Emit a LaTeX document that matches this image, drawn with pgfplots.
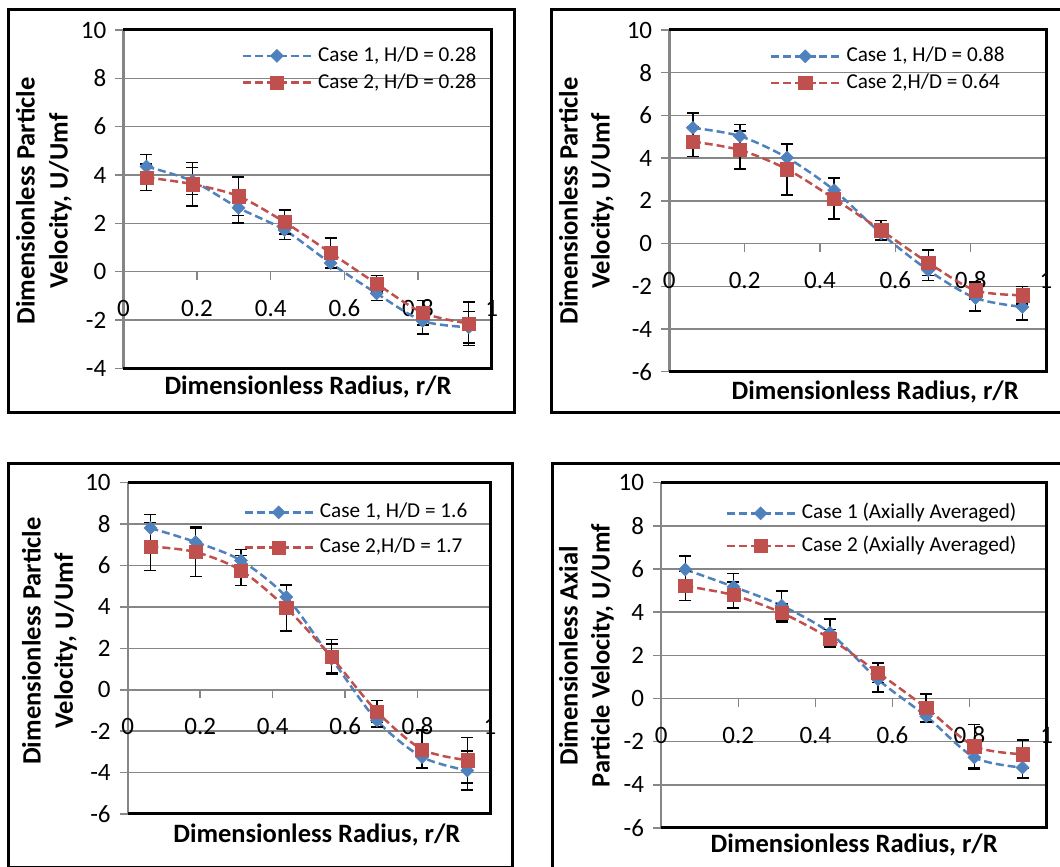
\documentclass[border=0pt]{standalone}
\usepackage{fontspec}
\setmainfont{Carlito}
\usepackage{pgfplots}
\usepackage{pgfplotstable}
\pgfplotsset{compat=1.18}

\definecolor{c1}{RGB}{79,129,189}
\definecolor{c2}{RGB}{192,80,77}
\definecolor{gridgray}{RGB}{134,134,134}

% r/R, case 1 (b, eb), case 2 (r, er)
\pgfplotstableread{
x      b      eb     r      er
0.0625 4.35   0.50   3.90   0.55
0.1875 3.75   0.55   3.62   0.90
0.3125 2.64   0.62   3.12   0.80
0.4375 1.72   0.40   2.05   0.50
0.5625 0.35   0.23   0.78   0.62
0.6875 -0.90  0.30   -0.50  0.35
0.8125 -2.04  0.55   -1.70  0.50
0.9375 -2.30  0.66   -2.15  0.90
}\dataA
\pgfplotstableread{
x      b      eb     r      er
0.0625 5.42   0.70   4.77   0.70
0.1875 5.03   0.55   4.38   0.90
0.3125 4.02   0.62   3.48   1.20
0.4375 2.50   0.60   2.10   0.95
0.5625 0.47   0.30   0.62   0.45
0.6875 -1.25  0.47   -0.90  0.60
0.8125 -2.55  0.60   -2.19  0.40
0.9375 -2.97  0.60   -2.42  0.40
}\dataB
\pgfplotstableread{
x      b      eb     r      er
0.0625 7.81   0.66   6.92   1.15
0.1875 7.13   0.76   6.65   1.17
0.3125 6.24   0.54   5.76   0.72
0.4375 4.48   0.61   3.95   1.11
0.5625 1.50   0.70   1.58   0.85
0.6875 -1.48  0.32   -1.05  0.53
0.8125 -3.25  0.52   -2.88  0.93
0.9375 -3.90  0.95   -3.40  1.10
}\dataC
\pgfplotstableread{
x      b      eb     r      er
0.0625 5.98   0.62   5.21   0.68
0.1875 5.18   0.62   4.79   0.60
0.3125 4.30   0.68   3.97   0.42
0.4375 3.04   0.64   2.78   0.42
0.5625 0.88   0.57   1.20   0.45
0.6875 -0.82  0.26   -0.43  0.63
0.8125 -2.73  0.55   -2.21  1.00
0.9375 -3.20  0.48   -2.58  0.65
}\dataD

\pgfplotsset{
  panel/.style={
    scale only axis, anchor=south west,
    xmin=0, xmax=1,
    xtick={0,0.2,0.4,0.6,0.8,1},
    xticklabels={0,0.2,0.4,0.6,0.8,1},
    axis x line*=middle, axis y line*=left,
    hide obscured x ticks=false, hide obscured y ticks=false,
    axis line style={-},
    x axis line style={gridgray, line width=1.5pt},
    y axis line style={gridgray, line width=2.5pt},
    tick align=outside, major tick length=8pt,
    tick style={gridgray, line width=1.5pt},
    ymajorgrids, grid style={gridgray, line width=1.5pt},
    tick label style={font=\fontsize{25}{30}\selectfont},
    yticklabel style={inner sep=0pt, anchor=east, xshift=-9pt},
    xticklabel style={inner sep=0pt, anchor=center, text height=16pt, text depth=0pt, yshift=-29pt},
    legend cell align=left,
    legend image code/.code={
      \draw[mark repeat=2, mark phase=2, #1]
        plot coordinates {(0pt,0pt) (34pt,0pt) (68pt,0pt)};
    },
    legend style={draw=none, fill=none, inner sep=0pt, outer sep=0pt,
      anchor=west, font=\fontsize{21.2}{24}\selectfont,
      nodes={inner sep=0pt, text height=15pt, text depth=4pt},
      /tikz/every odd column/.append style={column sep=6pt}},
  },
  s1/.style={c1, smooth, dash pattern=on 8pt off 4pt, line width=2.5pt,
    mark=square*, mark size=4.6pt,
    mark options={solid, rotate=45, fill=c1, draw=c1, line width=0.5pt},
    error bars/y dir=both, error bars/y explicit,
    error bars/error bar style={black, solid, line width=1.5pt},
    error bars/error mark options={black, solid, rotate=90, mark size=6pt, line width=1.5pt}},
  s2/.style={c2, smooth, dash pattern=on 8pt off 4pt, line width=2.5pt,
    mark=square*, mark size=6.6pt,
    mark options={solid, fill=c2, draw=c2, line width=0.5pt},
    error bars/y dir=both, error bars/y explicit,
    error bars/error bar style={black, solid, line width=1.5pt},
    error bars/error mark options={black, solid, rotate=90, mark size=6pt, line width=1.5pt}},
}

\tikzset{
  lab/.style={font=\fontsize{26.5}{30}\selectfont\bfseries, inner sep=0pt,
    text height=0.7em, text depth=0pt, anchor=center},
  frame/.style={line width=3pt, black},
}

\begin{document}
\begin{tikzpicture}[x=1pt, y=1pt]
\path[use as bounding box] (0,0) rectangle (1060,867);

% top left
\begin{axis}[panel, name=pA, at={(123.4pt,498.7pt)}, width=368.3pt, height=338.3pt,
  ymin=-4, ymax=10, ytick={-4,-2,0,2,4,6,8,10}, yticklabels={-4,-2,0,2,4,6,8,10},
  legend style={at={(0.3212,0.884)}, /tikz/row sep=7.7pt}]
\addplot[s1] table[x=x, y=b, y error=eb] {\dataA};
\addlegendentry{Case 1, H/D = 0.28}
\addplot[s2] table[x=x, y=r, y error=er] {\dataA};
\addlegendentry{Case 2, H/D = 0.28}
\end{axis}
\draw[frame] (pA.north west) -- (pA.north east) -- (pA.south east) -- (pA.south west);
\node[lab, rotate=90] at (31.1,666) {Dimensionless Particle};
\node[lab, rotate=90] at (64.2,666) {Velocity, U/Umf};
\node[lab] at (308,476) {Dimensionless Radius, r/R};
\draw[frame] (8.5,857) rectangle (514,454.3);

% top right
\begin{axis}[panel, name=pB, at={(669.3pt,495.3pt)}, width=376.7pt, height=341.7pt,
  ymin=-6, ymax=10, ytick={-6,-4,-2,0,2,4,6,8,10}, yticklabels={-6,-4,-2,0,2,4,6,8,10},
  legend style={at={(0.2673,0.884)}, /tikz/row sep=7.7pt}]
\addplot[s1] table[x=x, y=b, y error=eb] {\dataB};
\addlegendentry{Case 1, H/D = 0.88}
\addplot[s2] table[x=x, y=r, y error=er] {\dataB};
\addlegendentry{Case 2,H/D = 0.64}
\end{axis}
\draw[frame] (pB.north west) -- (pB.north east) -- (pB.south east) -- (pB.south west);
\node[lab, rotate=90] at (574,666) {Dimensionless Particle};
\node[lab, rotate=90] at (606,666) {Velocity, U/Umf};
\node[lab] at (875.2,471) {Dimensionless Radius, r/R};
\draw[frame] (551.7,857) rectangle (1075,454.3);

% bottom left
\begin{axis}[panel, name=pC, at={(127.8pt,53pt)}, width=362.2pt, height=331.3pt,
  ymin=-6, ymax=10, ytick={-6,-4,-2,0,2,4,6,8,10}, yticklabels={-6,-4,-2,0,2,4,6,8,10},
  legend style={at={(0.3192,0.8575)}, /tikz/row sep=16pt}]
\addplot[s1] table[x=x, y=b, y error=eb] {\dataC};
\addlegendentry{Case 1, H/D = 1.6}
\addplot[s2] table[x=x, y=r, y error=er] {\dataC};
\addlegendentry{Case 2,H/D = 1.7}
\end{axis}
\draw[frame] (pC.north west) -- (pC.north east) -- (pC.south east) -- (pC.south west);
\node[lab, rotate=90] at (37.2,226) {Dimensionless Particle};
\node[lab, rotate=90] at (69.3,226) {Velocity, U/Umf};
\node[lab] at (316.8,27.7) {Dimensionless Radius, r/R};
\draw[frame] (8.5,403.7) rectangle (512.7,-0.5);

% bottom right
\begin{axis}[panel, name=pD, at={(661.2pt,39pt)}, width=385.4pt, height=345.3pt,
  ymin=-6, ymax=10, ytick={-6,-4,-2,0,2,4,6,8,10}, yticklabels={-6,-4,-2,0,2,4,6,8,10},
  legend style={at={(0.1666,0.864)}, /tikz/row sep=13.7pt}]
\addplot[s1] table[x=x, y=b, y error=eb] {\dataD};
\addlegendentry{Case 1 (Axially Averaged)}
\addplot[s2] table[x=x, y=r, y error=er] {\dataD};
\addlegendentry{Case 2 (Axially Averaged)}
\end{axis}
\draw[frame] (pD.north west) -- (pD.north east) -- (pD.south east) -- (pD.south west);
\node[lab, rotate=90] at (574,211.3) {Dimensionless Axial};
\node[lab, rotate=90] at (606,211.3) {Particle Velocity, U/Umf};
\node[lab] at (854.2,18) {Dimensionless Radius, r/R};
\draw[frame] (552,403) rectangle (1075,-10);
\end{tikzpicture}
\end{document}
